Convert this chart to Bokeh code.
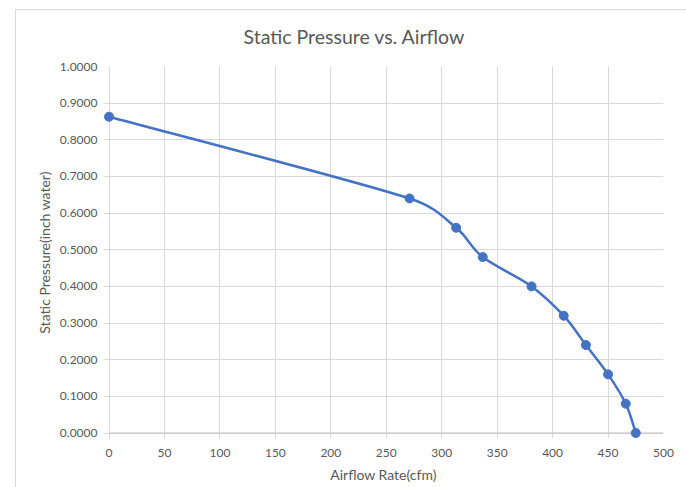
from bokeh.plotting import figure
from bokeh.models import Range1d, FixedTicker, NumeralTickFormatter, ColumnDataSource
from bokeh.embed import file_html
from bokeh.resources import INLINE

# ---- data ----
airflow = [0, 271, 313, 337, 381, 410, 430, 450, 466, 475]
pressure = [0.863, 0.64, 0.56, 0.48, 0.40, 0.32, 0.24, 0.16, 0.08, 0.0]
x_ticks = [0, 50, 100, 150, 200, 250, 300, 350, 400, 450, 500]
y_ticks = [0.0, 0.1, 0.2, 0.3, 0.4, 0.5, 0.6, 0.7, 0.8, 0.9, 1.0]

title = "Static Pressure vs. Airflow"
x_label = "Airflow Rate(cfm)"
y_label = "Static Pressure(inch water)"

BLUE = "#4472C4"
GRID = "#d9d9d9"
TEXT = "#595959"
FONT = "Lato"

X_START, X_END = -5, 500
Y_START, Y_END = -0.015, 1.0
FRAME_W, FRAME_H = 560, 372
sx = FRAME_W / (X_END - X_START)   # px per x unit
sy = FRAME_H / (Y_END - Y_START)   # px per y unit

# smoothed-line Bezier control points (spreadsheet-style smoothing, tangent limited
# to half of the segment length, measured in screen pixels)
n = len(airflow)
def tangent(i, seg_len):
    a = max(i - 1, 0)
    b = min(i + 1, n - 1)
    tx = (airflow[b] - airflow[a]) * sx
    ty = (pressure[b] - pressure[a]) * sy
    L = (tx * tx + ty * ty) ** 0.5
    if L == 0:
        return 0.0, 0.0
    k = min(L / 6.0, seg_len / 2.0) / L
    return tx * k / sx, ty * k / sy

x0s, y0s, x1s, y1s, cx0, cy0, cx1, cy1 = [], [], [], [], [], [], [], []
for i in range(n - 1):
    dx = (airflow[i + 1] - airflow[i]) * sx
    dy = (pressure[i + 1] - pressure[i]) * sy
    d = (dx * dx + dy * dy) ** 0.5
    t0x, t0y = tangent(i, d)
    t1x, t1y = tangent(i + 1, d)
    x0s.append(airflow[i]); y0s.append(pressure[i])
    x1s.append(airflow[i + 1]); y1s.append(pressure[i + 1])
    cx0.append(airflow[i] + t0x); cy0.append(pressure[i] + t0y)
    cx1.append(airflow[i + 1] - t1x); cy1.append(pressure[i + 1] - t1y)
seg = ColumnDataSource(dict(x0=x0s, y0=y0s, x1=x1s, y1=y1s, cx0=cx0, cy0=cy0, cx1=cx1, cy1=cy1))

p = figure(
    output_backend="svg", toolbar_location=None,
    frame_width=FRAME_W, frame_height=FRAME_H,
    min_border_left=88, min_border_right=23, min_border_top=64, min_border_bottom=49,
    x_range=Range1d(X_START, X_END), y_range=Range1d(Y_START, Y_END),
    title=title,
)
p.margin = (2, 0, 0, 15)
# light chart-area border (top and left edges), drawn behind a transparent canvas border
p.styles = {
    "background": ("linear-gradient(#d9d9d9, #d9d9d9) 0px 7px / 100% 1px no-repeat, "
                   "linear-gradient(#d9d9d9, #d9d9d9) 0px 7px / 1px 100% no-repeat"),
}

p.title.align = "left"
p.title.offset = 140
p.title.text_font = FONT
p.title.text_font_size = "19.5px"
p.title.text_font_style = "normal"
p.title.text_color = TEXT
p.title.standoff = 38

p.outline_line_color = None
p.background_fill_color = "white"
p.border_fill_alpha = 0

p.xaxis.ticker = FixedTicker(ticks=x_ticks)
p.yaxis.ticker = FixedTicker(ticks=y_ticks)
p.yaxis.formatter = NumeralTickFormatter(format="0.0000")
for ax in (p.xaxis, p.yaxis):
    ax.major_tick_line_color = None
    ax.minor_tick_line_color = None
    ax.axis_line_color = None
    ax.major_label_text_font = FONT
    ax.major_label_text_font_size = "12px"
    ax.major_label_text_color = TEXT
    ax.axis_label_text_font = FONT
    ax.axis_label_text_font_size = "14px"
    ax.axis_label_text_font_style = "normal"
    ax.axis_label_text_color = TEXT
p.xaxis.axis_label = x_label
p.yaxis.axis_label = y_label
p.xaxis.major_label_standoff = 4
p.yaxis.major_label_standoff = 0
p.xaxis.axis_label_standoff = 6
p.yaxis.axis_label_standoff = 4

p.xgrid.grid_line_color = GRID
p.ygrid.grid_line_color = GRID
p.xgrid.grid_line_width = 1
p.ygrid.grid_line_width = 1

# horizontal axis line spanning the tick range
p.segment(x0=[x_ticks[0]], y0=[y_ticks[0]], x1=[x_ticks[-1]], y1=[y_ticks[0]],
          line_color="#bfbfbf", line_width=1.2)

p.bezier(x0="x0", y0="y0", x1="x1", y1="y1", cx0="cx0", cy0="cy0", cx1="cx1", cy1="cy1",
         source=seg, line_color=BLUE, line_width=2.5)
p.scatter(airflow, pressure, size=9, fill_color=BLUE, line_color=BLUE)

open("out.html", "w").write(file_html(p, INLINE))
